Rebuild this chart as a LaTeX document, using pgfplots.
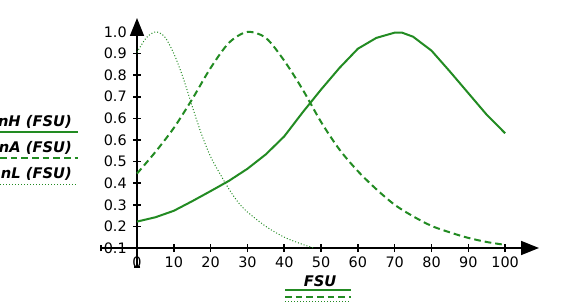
\documentclass[border=0pt]{standalone}
\usepackage{pgfplots}
\pgfplotsset{compat=1.18}
\usepackage{fontspec}
\setmainfont{DejaVu Sans}
\usetikzlibrary{arrows.meta}
\definecolor{fg}{RGB}{34,139,34}

\begin{document}
\begin{tikzpicture}[x=1pt,y=1pt]
\useasboundingbox (0,0) rectangle (423,228);
\begin{axis}[at={(102.75pt,42pt)}, anchor=south west, scale only axis,
 width=301.5pt, height=172.5pt,
 xmin=0, xmax=109.2, ymin=0.1, ymax=1.058,
 axis lines=left,
 axis line style={line width=1.2pt, black},
 x axis line style={-{Triangle[length=13.5pt,width=10.5pt]}},
 y axis line style={-{Triangle[length=13.5pt,width=10.5pt]}},
 xtick={0,10,...,100},
 ytick={0.1,0.19,0.28,0.37,0.46,0.55,0.64,0.73,0.82,0.91,1.0},
 yticklabels={0.1,0.2,0.3,0.4,0.5,0.6,0.6,0.7,0.8,0.9,1.0},
 tick align=center, major tick length=6pt,
 tick style={black, line width=1.2pt},
 ticklabel style={font=\fontsize{10.8}{12}\selectfont},
 yticklabel style={xshift=-1.2pt},
 /pgf/number format/assume math mode=true,
 clip=false,
]
\addplot[fg, line width=1.5pt] coordinates {
(0,0.21) (5,0.228) (10,0.255) (15,0.295) (20,0.337) (25,0.38) (30,0.43) (35,0.49)
(40,0.565) (45,0.665) (50,0.76) (55,0.85) (60,0.93) (65,0.975) (70,0.997) (72,0.997)
(75,0.98) (80,0.922) (85,0.835) (90,0.745) (95,0.655) (100,0.578)};
\addplot[fg, line width=1.5pt, dash pattern=on 5pt off 3pt, smooth] coordinates {
(0,0.41) (5,0.50) (10,0.60) (15,0.72) (20,0.85) (25,0.955) (30,1.0) (35,0.975)
(40,0.88) (45,0.76) (50,0.625) (55,0.51) (60,0.42) (65,0.345) (70,0.28) (75,0.232)
(80,0.192) (85,0.165) (90,0.142) (95,0.125) (100,0.113)};
\addplot[fg, line width=0.75pt, dash pattern=on 0.75pt off 1.5pt, smooth] coordinates {
(0,0.915) (2.5,0.975) (5,1.0) (7.5,0.98) (10,0.91) (12.5,0.81) (15,0.69) (17.5,0.575)
(20,0.48) (22.5,0.41) (25,0.345) (27.5,0.29) (30,0.25) (35,0.19) (40,0.145) (45,0.115) (48,0.1)};
\draw[black, line width=1.2pt, {Bar[width=5pt]}-] (axis cs:-10.05,0.1) -- (axis cs:0,0.1);
\draw[black, line width=1.2pt, {Bar[width=5pt]}-] (axis cs:0,0.0167) -- (axis cs:0,0.1);
\end{axis}
\begin{scope}[font=\fontsize{11}{13}\selectfont\bfseries\itshape]
\node[anchor=base east, inner sep=0pt] at (54,133) {nH (FSU)};
\draw[fg, line width=1.5pt] (0,129) -- (58.5,129);
\node[anchor=base east, inner sep=0pt] at (54,113.8) {nA (FSU)};
\draw[fg, line width=1.5pt, dash pattern=on 5pt off 3pt] (0,109.3) -- (58.5,109.3);
\node[anchor=base east, inner sep=0pt] at (54,94.5) {nL (FSU)};
\draw[fg, line width=0.75pt, dash pattern=on 0.75pt off 1.5pt] (0,90) -- (58.5,90);
\node[anchor=base, inner sep=0pt] at (240,13) {FSU};
\draw[fg, line width=1.5pt] (213.75,10.3) -- (263,10.3);
\draw[fg, line width=1.5pt, dash pattern=on 5pt off 3pt] (213.75,5.5) -- (263,5.5);
\draw[fg, line width=0.75pt, dash pattern=on 0.75pt off 1.5pt] (213.75,1.7) -- (263,1.7);
\end{scope}
\end{tikzpicture}
\end{document}
